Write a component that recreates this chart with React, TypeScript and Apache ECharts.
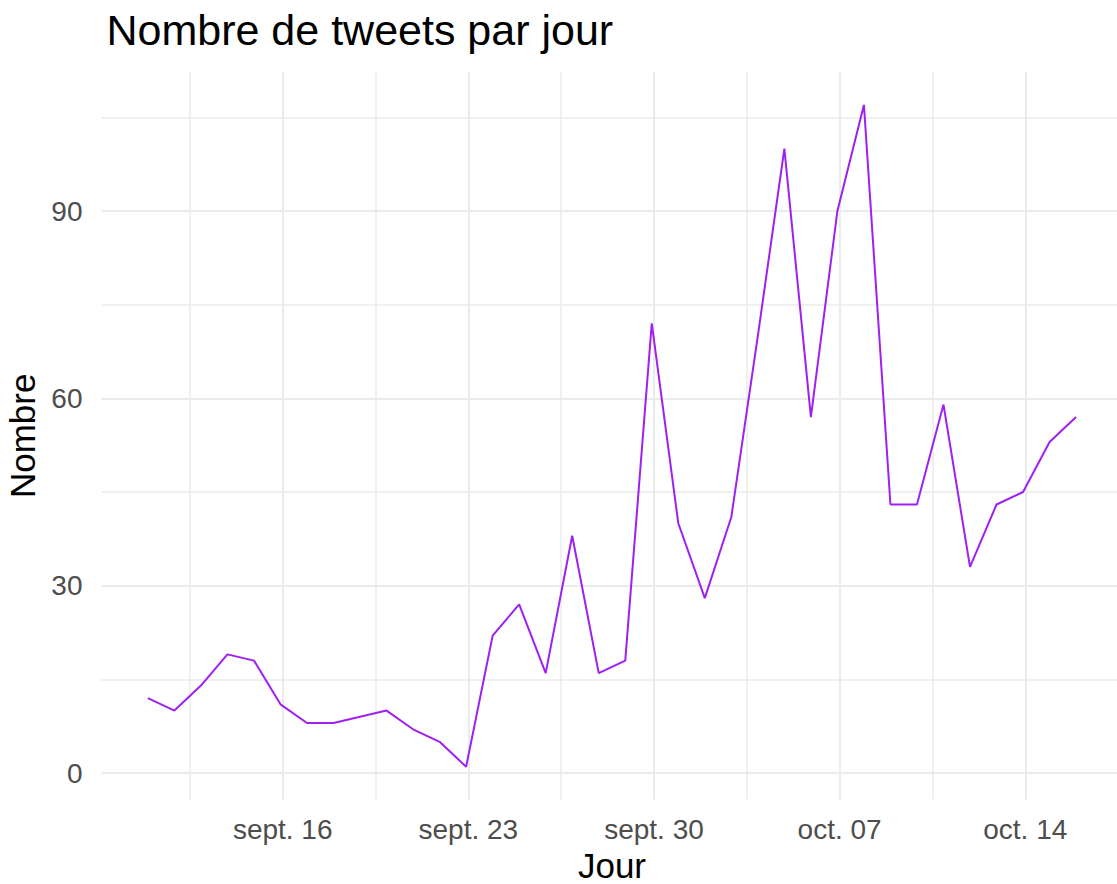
import React, { useEffect, useRef } from "react";
import * as echarts from "echarts";

const TITLE = "Nombre de tweets par jour";
const X_TITLE = "Jour";
const Y_TITLE = "Nombre";

const DATES = [
  "2019-09-11", "2019-09-12", "2019-09-13", "2019-09-14", "2019-09-15", "2019-09-16",
  "2019-09-17", "2019-09-18", "2019-09-19", "2019-09-20", "2019-09-21", "2019-09-22",
  "2019-09-23", "2019-09-24", "2019-09-25", "2019-09-26", "2019-09-27", "2019-09-28",
  "2019-09-29", "2019-09-30", "2019-10-01", "2019-10-02", "2019-10-03", "2019-10-04",
  "2019-10-05", "2019-10-06", "2019-10-07", "2019-10-08", "2019-10-09", "2019-10-10",
  "2019-10-11", "2019-10-12", "2019-10-13", "2019-10-14", "2019-10-15", "2019-10-16",
];
const COUNTS = [
  12, 10, 14, 19, 18, 11,
  8, 8, 9, 10, 7, 5,
  1, 22, 27, 16, 38, 16,
  18, 72, 40, 28, 41, 70,
  100, 57, 90, 107, 43, 43,
  59, 33, 43, 45, 53, 57,
];

// x ticks: days counted from the first break (sept. 16)
const X_BASE_DATE = "2019-09-16";
const X_TICK_VALUES = [0, 7, 14, 21, 28];
const X_TICK_LABELS = ["sept. 16", "sept. 23", "sept. 30", "oct. 07", "oct. 14"];
const Y_TICK_VALUES = [0, 30, 60, 90];
// dates are local midnight (UTC+2) while breaks are drawn at UTC midnight
const TZ_OFFSET_DAYS = 2 / 24;

const FONT = "'Liberation Sans', Arial, Helvetica, sans-serif";
const GRID_COLOR = "#EBEBEB";
const LINE_COLOR = "#A020F0";

// layout (pixels)
const PX_PER_DAY = 26.52;
const X_ZERO_PX = 282.7;
const PX_PER_UNIT = 6.244;
const Y_ZERO_PX = 773;

export default function App() {
  const ref = useRef<HTMLDivElement | null>(null);

  useEffect(() => {
    document.body.style.margin = "0";
    if (!ref.current) return;
    const chart = echarts.init(ref.current, undefined, { renderer: "svg" });

    const base = Date.parse(X_BASE_DATE + "T00:00:00Z");
    const days = DATES.map((d) => (Date.parse(d + "T00:00:00Z") - base) / 864e5 - TZ_OFFSET_DAYS);
    const seriesData = days.map((d, i) => [d, COUNTS[i]]);

    // ggplot-like 5% expansion of the data range
    const xMinData = Math.min(...days);
    const xMaxData = Math.max(...days);
    const xPad = (xMaxData - xMinData) * 0.05;
    const panelXMin = xMinData - xPad;
    const panelXMax = xMaxData + xPad;
    const yMinData = Math.min(...COUNTS);
    const yMaxData = Math.max(...COUNTS);
    const yPad = (yMaxData - yMinData) * 0.05;
    const panelYMin = yMinData - yPad;
    const panelYMax = yMaxData + yPad;

    const panelLeft = X_ZERO_PX + panelXMin * PX_PER_DAY;
    const panelRight = X_ZERO_PX + panelXMax * PX_PER_DAY;
    const panelTop = Y_ZERO_PX - panelYMax * PX_PER_UNIT;
    const panelBottom = Y_ZERO_PX - panelYMin * PX_PER_UNIT;

    // vertical grid: x axis starting one week before the first break
    const vMin = X_TICK_VALUES[0] - 7;
    const vMax = X_TICK_VALUES[X_TICK_VALUES.length - 1] + 7;
    const vLeft = X_ZERO_PX + vMin * PX_PER_DAY;
    const vWidth = (vMax - vMin) * PX_PER_DAY;

    // horizontal grid: y axis 0..120
    const hMax = 120;
    const hTop = Y_ZERO_PX - hMax * PX_PER_UNIT;

    const fmtX = (v: number) => {
      const i = X_TICK_VALUES.findIndex((t) => Math.abs(t - v) < 1e-6);
      return i >= 0 ? X_TICK_LABELS[i] : "";
    };
    const fmtY = (v: number) => (Y_TICK_VALUES.indexOf(v) >= 0 ? String(v) : "");

    chart.setOption({
      animation: false,
      backgroundColor: "#ffffff",
      textStyle: { fontFamily: FONT },
      title: {
        text: TITLE,
        left: panelLeft,
        top: 3,
        textStyle: { fontFamily: FONT, fontSize: 43, fontWeight: "normal", color: "#000000" },
      },
      grid: [
        {
          left: vLeft,
          top: panelTop,
          width: vWidth,
          height: panelBottom - panelTop,
          containLabel: false,
          outerBoundsMode: "none",
        },
        {
          left: panelLeft,
          top: hTop,
          width: panelRight - panelLeft,
          height: Y_ZERO_PX - hTop,
          containLabel: false,
          outerBoundsMode: "none",
        },
      ],
      xAxis: [
        {
          type: "value",
          gridIndex: 0,
          min: vMin,
          max: vMax,
          interval: 7,
          axisLine: { show: false },
          axisTick: { show: false },
          minorTick: { show: false, splitNumber: 2 },
          axisLabel: {
            show: true,
            formatter: fmtX,
            margin: 16,
            fontSize: 28,
            color: "#4D4D4D",
            fontFamily: FONT,
            showMinLabel: false,
            showMaxLabel: false,
            hideOverlap: false,
          },
          splitLine: {
            show: true,
            showMinLine: false,
            showMaxLine: false,
            lineStyle: { color: GRID_COLOR, width: 2 },
          },
          minorSplitLine: { show: true, lineStyle: { color: GRID_COLOR, width: 1.5 } },
        },
        {
          type: "value",
          gridIndex: 1,
          min: 0,
          max: 1,
          axisLine: { show: false },
          axisTick: { show: false },
          axisLabel: { show: false },
          splitLine: { show: false },
          name: X_TITLE,
          nameLocation: "middle",
          nameGap: 74,
          nameTextStyle: { fontSize: 35, color: "#000000", fontFamily: FONT, lineHeight: 36 },
        },
      ],
      yAxis: [
        {
          type: "value",
          gridIndex: 0,
          min: panelYMin,
          max: panelYMax,
          axisLine: { show: false },
          axisTick: { show: false },
          axisLabel: { show: false },
          splitLine: { show: false },
          name: Y_TITLE,
          nameLocation: "middle",
          nameRotate: 90,
          nameGap: 57,
          nameTextStyle: { fontSize: 35, color: "#000000", fontFamily: FONT },
        },
        {
          type: "value",
          gridIndex: 1,
          min: 0,
          max: hMax,
          interval: 30,
          axisLine: { show: false },
          axisTick: { show: false },
          minorTick: { show: false, splitNumber: 2 },
          axisLabel: {
            show: true,
            formatter: fmtY,
            margin: 19,
            fontSize: 28,
            color: "#4D4D4D",
            fontFamily: FONT,
            showMaxLabel: false,
          },
          splitLine: {
            show: true,
            showMaxLine: false,
            lineStyle: { color: GRID_COLOR, width: 2 },
          },
          minorSplitLine: { show: true, lineStyle: { color: GRID_COLOR, width: 1.5 } },
        },
      ],
      series: [
        {
          type: "line",
          xAxisIndex: 0,
          yAxisIndex: 0,
          data: seriesData,
          showSymbol: false,
          symbol: "none",
          lineStyle: { color: LINE_COLOR, width: 2 },
          z: 5,
        },
      ],
    });

    return () => {
      chart.dispose();
    };
  }, []);

  return <div ref={ref} style={{ width: 1117, height: 884 }} />;
}
